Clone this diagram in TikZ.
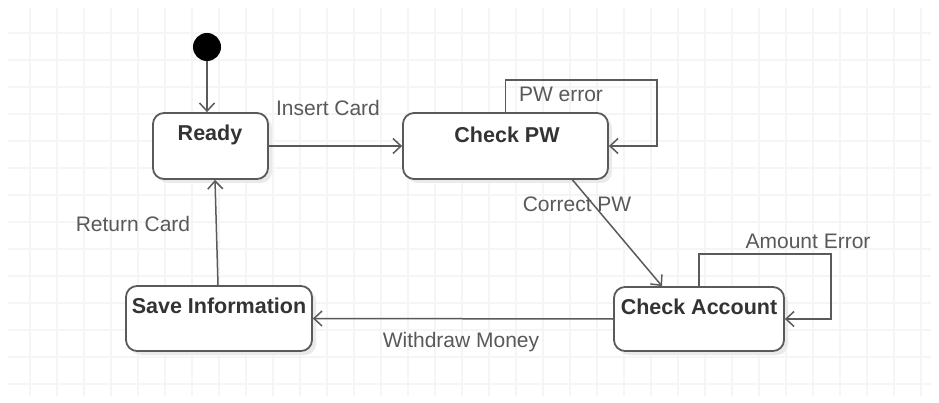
\documentclass[tikz,border=0pt]{standalone}
\usepackage{fontspec}
\setmainfont{Liberation Sans}
\usetikzlibrary{arrows.meta}
\definecolor{ln}{HTML}{5A5A5A}
\definecolor{tx}{HTML}{595959}
\definecolor{bt}{HTML}{333333}
\definecolor{gr}{HTML}{F5F5F5}
\definecolor{sh}{HTML}{EAEAEA}
\tikzset{
  stbox/.style={draw=ln,line width=1.8pt,rounded corners=11pt,fill=white,inner sep=0pt},
  shbox/.style={fill=sh,rounded corners=11pt,inner sep=0pt},
  sttxt/.style={text=bt,font=\fontsize{21.5}{25}\selectfont\bfseries,inner sep=0pt},
  lbl/.style={text=tx,font=\fontsize{21}{25}\selectfont,inner sep=0pt},
  arr/.style={draw=ln,line width=1.5pt,-{Straight Barb[length=8pt,width=15pt,line width=1.5pt]}},
  gline/.style={draw=gr,line width=1.3pt}
}
\begin{document}
\begin{tikzpicture}[x=1pt,y=-1pt]
\useasboundingbox (0,0) rectangle (939,403);
\fill[white] (0,0) rectangle (939,403);
\foreach \gx in {30,57,...,930} {\draw[gline] (\gx,8) -- (\gx,396);}
\foreach \gy in {33,60,...,396} {\draw[gline] (8,\gy) -- (931,\gy);}
% shadows
\node[shbox,minimum width=115pt,minimum height=66pt] (readysh) at (214.5,150) {};
\node[shbox,minimum width=205pt,minimum height=66pt] (checkpwsh) at (509.5,150) {};
\node[shbox,minimum width=170pt,minimum height=64pt] (checkaccsh) at (703,323) {};
\node[shbox,minimum width=186pt,minimum height=65pt] (savesh) at (223,322.5) {};
% states
\node[stbox,minimum width=115pt,minimum height=66pt] (ready) at (210.5,146) {};
\node[sttxt] (readyt) at (210,135) {Ready};
\node[stbox,minimum width=205pt,minimum height=66pt] (checkpw) at (505.5,146) {};
\node[sttxt] (checkpwt) at (507,135) {Check PW};
\node[stbox,minimum width=170pt,minimum height=64pt] (checkacc) at (699,319) {};
\node[sttxt] (checkacct) at (699,307) {Check Account};
\node[stbox,minimum width=186pt,minimum height=65pt] (save) at (219,318.5) {};
\node[sttxt] (savet) at (219,306) {Save Information};
% initial
\node[circle,fill=black,minimum size=28pt,inner sep=0pt] (init) at (207,47) {};
% loops
\coordinate (pwA) at (657,80);
\coordinate (amA) at (831,254);
% connectors
\draw[arr] (init) -- ([xshift=-3.5pt]ready.north);
\draw[arr] (ready.east) -- (checkpw.west);
\draw[arr] (checkpw.north) |- (pwA) |- (checkpw.east);
\draw[arr] ([xshift=67pt]checkpw.south) -- ([xshift=-37pt]checkacc.north);
\draw[arr] (checkacc.north) |- (amA) |- (checkacc.east);
\draw[arr] (checkacc.west) -- (save.east);
\draw[arr] ([xshift=-1pt]save.north) -- ([xshift=4.5pt]ready.south);
% labels
\node[lbl] (l1) at (328,108) {Insert Card};
\node[lbl] (l2) at (561,94) {PW error};
\node[lbl] (l3) at (577,204) {Correct PW};
\node[lbl] (l4) at (808,241) {Amount Error};
\node[lbl] (l5) at (461,342) {Withdraw Money};
\node[lbl] (l6) at (133,224) {Return Card};
\end{tikzpicture}
\end{document}
